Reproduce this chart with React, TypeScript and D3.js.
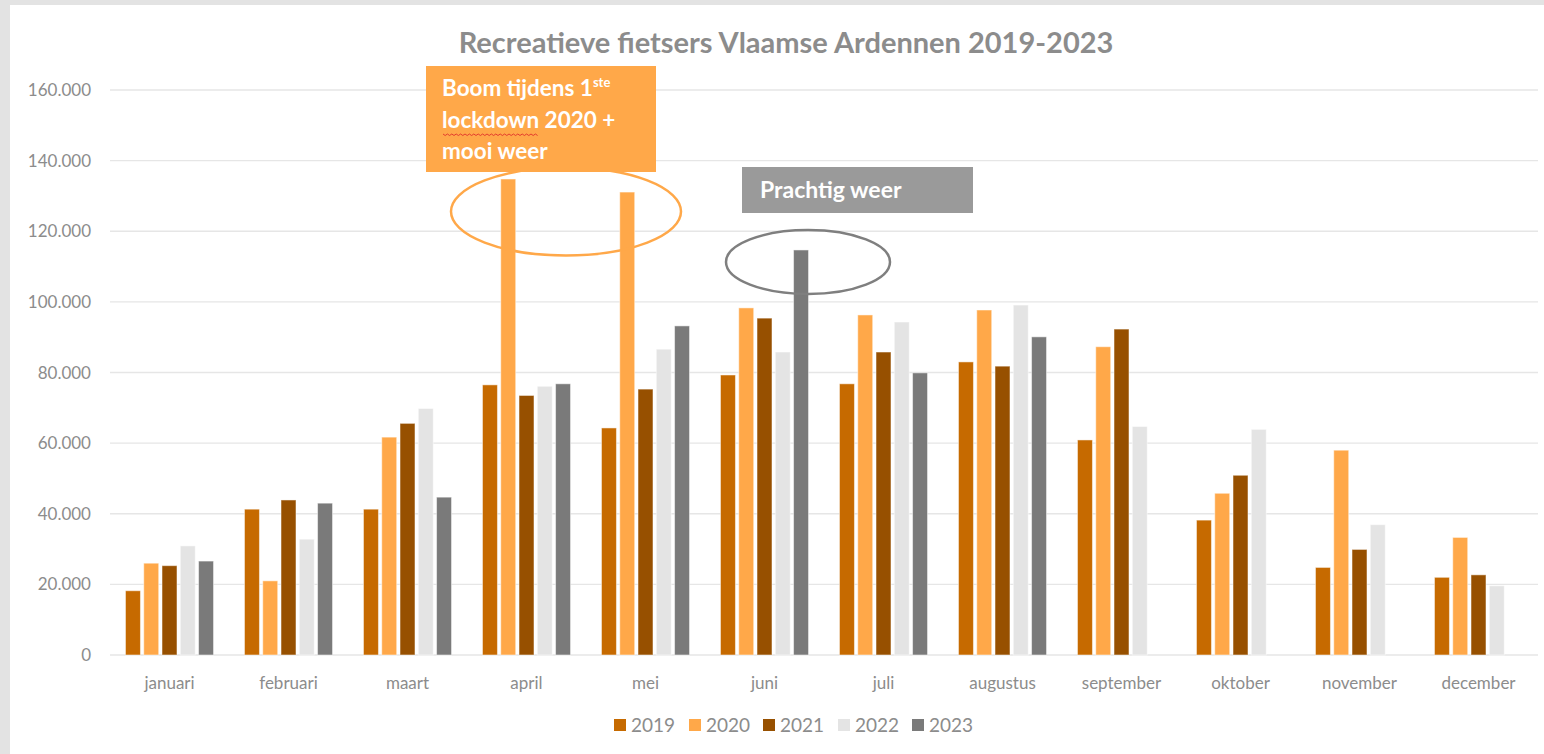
import React, { useEffect, useRef } from "react";
import * as d3 from "d3";

const months = ["januari", "februari", "maart", "april", "mei", "juni", "juli", "augustus", "september", "oktober", "november", "december"];
const years = ["2019", "2020", "2021", "2022", "2023"];
const colors = ["#C66A00", "#FFA849", "#975000", "#E4E4E4", "#7A7A7A"];

const v2019 = [18200, 41300, 41300, 76500, 64300, 79300, 76800, 83000, 60900, 38200, 24800, 22000];
const v2020 = [26000, 21000, 61700, 134800, 131100, 98300, 96300, 97700, 87300, 45800, 58000, 33300];
const v2021 = [25300, 43900, 65600, 73500, 75300, 95400, 85800, 81800, 92300, 50900, 29900, 22700];
const v2022 = [30900, 32800, 69800, 76100, 86600, 85800, 94300, 99100, 64700, 63900, 36900, 19600];
const v2023 = [26600, 43000, 44700, 76800, 93200, 114700, 79900, 90100, null, null, null, null];
const yTicks = [0, 20000, 40000, 60000, 80000, 100000, 120000, 140000, 160000];

const FONT = "Lato, 'Open Sans', sans-serif";

export default function App() {
  const ref = useRef<SVGSVGElement>(null);

  useEffect(() => {
    const W = 1544, H = 754;
    const svg = d3.select(ref.current);
    svg.selectAll("*").remove();

    const series = [v2019, v2020, v2021, v2022, v2023];
    const left = 110, right = 1538, top = 90, bottom = 655;

    // background frame
    svg.append("rect").attr("width", W).attr("height", H).attr("fill", "#E3E3E3");
    svg.append("rect").attr("x", 10).attr("y", 5).attr("width", W - 10).attr("height", H - 5).attr("fill", "#fff");

    const x0 = d3.scaleBand().domain(months).range([left, right]).paddingInner(0.26).paddingOuter(0.13);
    const x1 = d3.scaleBand().domain(years).range([0, x0.bandwidth()]).paddingInner(0.18);
    const y = d3.scaleLinear().domain([0, 160000]).range([bottom, top]);
    const fmt = (d: number) => (d === 0 ? "0" : d3.format(",")(d).replace(/,/g, "."));

    // gridlines
    svg.append("g").selectAll("line").data(yTicks).join("line")
      .attr("x1", left).attr("x2", right)
      .attr("y1", d => y(d)).attr("y2", d => y(d))
      .attr("stroke", "#E6E6E6").attr("stroke-width", 1.3);

    // y labels
    svg.append("g").selectAll("text").data(yTicks).join("text")
      .attr("x", 91).attr("y", d => y(d)).attr("dy", "0.36em")
      .attr("text-anchor", "end").attr("font-family", FONT).attr("font-size", 17)
      .attr("fill", "#8C8C8C").text(d => fmt(d));

    // x labels
    svg.append("g").selectAll("text").data(months).join("text")
      .attr("x", d => (x0(d) as number) + x0.bandwidth() / 2).attr("y", 689)
      .attr("text-anchor", "middle").attr("font-family", FONT).attr("font-size", 17)
      .attr("fill", "#8C8C8C").text(d => d);

    // bars
    const rows = months.flatMap((m, i) => years.map((yr, j) => ({ m, yr, j, v: series[j][i] })))
      .filter(d => d.v != null);
    svg.append("g").selectAll("rect").data(rows).join("rect")
      .attr("x", d => (x0(d.m) as number) + (x1(d.yr) as number))
      .attr("width", x1.bandwidth())
      .attr("y", d => y(d.v as number))
      .attr("height", d => bottom - y(d.v as number))
      .attr("fill", d => colors[d.j])
      .attr("stroke", "#fff").attr("stroke-opacity", 0.5).attr("stroke-width", 1);

    // title
    svg.append("text").attr("x", 786).attr("y", 53).attr("text-anchor", "middle")
      .attr("font-family", FONT).attr("font-size", 29).attr("font-weight", "bold")
      .attr("fill", "#8C8C8C").text("Recreatieve fietsers Vlaamse Ardennen 2019-2023");

    // annotation: orange
    svg.append("ellipse").attr("cx", 566).attr("cy", 211.5).attr("rx", 115).attr("ry", 44)
      .attr("fill", "none").attr("stroke", "#FFA849").attr("stroke-width", 2.5);
    svg.append("rect").attr("x", 426).attr("y", 66).attr("width", 230).attr("height", 106).attr("fill", "#FFA849");
    const t1 = svg.append("text").attr("font-family", FONT).attr("font-size", 22.5)
      .attr("font-weight", "bold").attr("fill", "#fff");
    t1.append("tspan").attr("x", 442).attr("y", 96).text("Boom tijdens 1");
    t1.append("tspan").attr("font-size", 13).attr("dy", -9).text("ste");
    t1.append("tspan").attr("x", 442).attr("y", 128).text("lockdown 2020 +");
    t1.append("tspan").attr("x", 442).attr("y", 159).text("mooi weer");
    // spellcheck squiggle under "lockdown"
    const sq = d3.range(0, 44).map(i => [443 + i * 2.2, 134 + (i % 2 === 0 ? 0 : 1.5)] as [number, number]);
    svg.append("path").attr("d", d3.line()(sq)).attr("fill", "none").attr("stroke", "#E0302A").attr("stroke-width", 0.9);

    // annotation: grey
    svg.append("ellipse").attr("cx", 808).attr("cy", 262).attr("rx", 82).attr("ry", 32)
      .attr("fill", "none").attr("stroke", "#7F7F7F").attr("stroke-width", 2.5);
    svg.append("rect").attr("x", 742).attr("y", 167).attr("width", 231).attr("height", 46).attr("fill", "#9A9A9A");
    svg.append("text").attr("x", 760).attr("y", 198).attr("font-family", FONT).attr("font-size", 23)
      .attr("font-weight", "bold").attr("fill", "#fff").text("Prachtig weer");

    // legend
    const lx = [614, 689, 763, 838, 912];
    const lg = svg.append("g").selectAll("g").data(years).join("g")
      .attr("transform", (d, i) => `translate(${lx[i]},719)`);
    lg.append("rect").attr("width", 12).attr("height", 12).attr("fill", (d, i) => colors[i]);
    lg.append("text").attr("x", 17).attr("y", 12.5).attr("font-family", FONT).attr("font-size", 19)
      .attr("fill", "#8C8C8C").text(d => d);
  }, []);

  return (
    <svg ref={ref} width={1544} height={754}
      style={{ position: "absolute", left: 0, top: 0, display: "block" }} />
  );
}
